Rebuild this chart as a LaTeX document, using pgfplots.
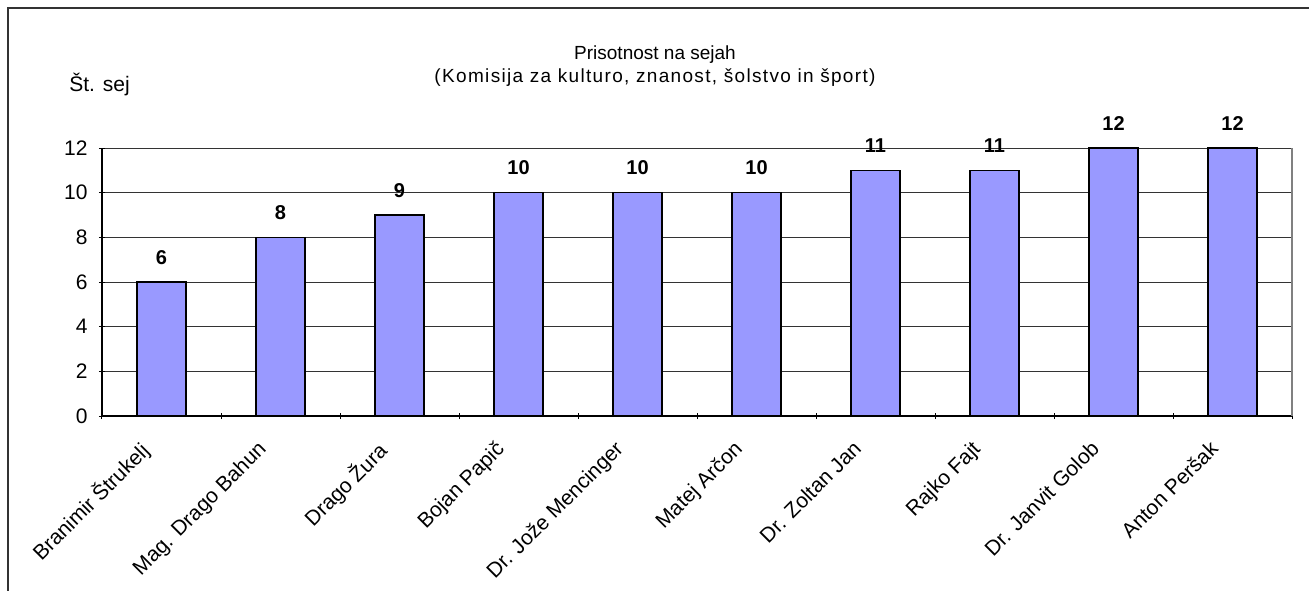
\documentclass[border=0pt]{standalone}
\usepackage{pgfplots}
\pgfplotsset{compat=1.18}
\usepackage{fontspec}
\setmainfont{Liberation Sans}
\definecolor{barfill}{HTML}{9999FF}

\begin{document}
\fontsize{9pt}{11pt}\selectfont
\begin{tikzpicture}
\begin{axis}[
    at={(0pt,0pt)}, anchor=south west,
    scale only axis, width=595pt, height=134pt,
    xmin=-0.5, xmax=9.5, ymin=0, ymax=12,
    ybar, bar width=24.5pt,
    ytick={0,2,...,12},
    xtick={0,...,9},
    xticklabels={Branimir Štrukelj, Mag. Drago Bahun, Drago Žura, Bojan Papič, Dr. Jože Mencinger, Matej Arčon, Dr. Zoltan Jan, Rajko Fajt, Dr. Janvit Golob, Anton Peršak},
    minor xtick={-0.5,0.5,...,9.5},
    major x tick style={draw=none},
    minor x tick style={black, line width=0.5pt},
    y tick style={black, line width=0.5pt},
    tick align=outside,
    major tick length=3pt, minor tick length=3pt,
    ymajorgrids, major grid style={black!80, line width=0.5pt},
    axis x line=bottom, axis y line=left,
    axis line style={-, black, line width=0.6pt},
    clip=false,
    /pgf/number format/assume math mode=true,
    ticklabel style={font=\fontsize{10.5pt}{12pt}\selectfont},
    yticklabel style={inner sep=0pt, xshift=-5.5pt},
    xticklabel style={xshift=-12pt, yshift=-10pt, rotate=45, anchor=north east, inner sep=0pt},
    nodes near coords,
    nodes near coords style={font=\fontsize{10pt}{12pt}\selectfont\bfseries, yshift=5.5pt},
]
\addplot[fill=barfill, draw=black, line width=0.75pt]
    coordinates {(0,6) (1,8) (2,9) (3,10) (4,10) (5,10) (6,11) (7,11) (8,12) (9,12)};
\draw[black!50, line width=0.75pt] (rel axis cs:1,0) -- (rel axis cs:1,1);
\end{axis}
% title, second line a little spaced out as in the reference
\node[align=center, font=\fontsize{9.5pt}{11.5pt}\selectfont] at (276.5pt,175pt)
    {Prisotnost na sejah\\{\addfontfeatures{LetterSpace=7}(Komisija za kulturo, znanost, šolstvo in šport)}};
\node[anchor=west, inner sep=0pt, font=\fontsize{10.5pt}{12pt}\selectfont] at (-16.5pt,165.5pt) {Št. sej};
\draw[black!80, line width=1pt] (-47pt,-95pt) -- (-47pt,204pt) -- (610pt,204pt);
\pgfresetboundingbox
\path[use as bounding box] (-51pt,-87pt) rectangle (603.5pt,208pt);
\end{tikzpicture}
\end{document}
